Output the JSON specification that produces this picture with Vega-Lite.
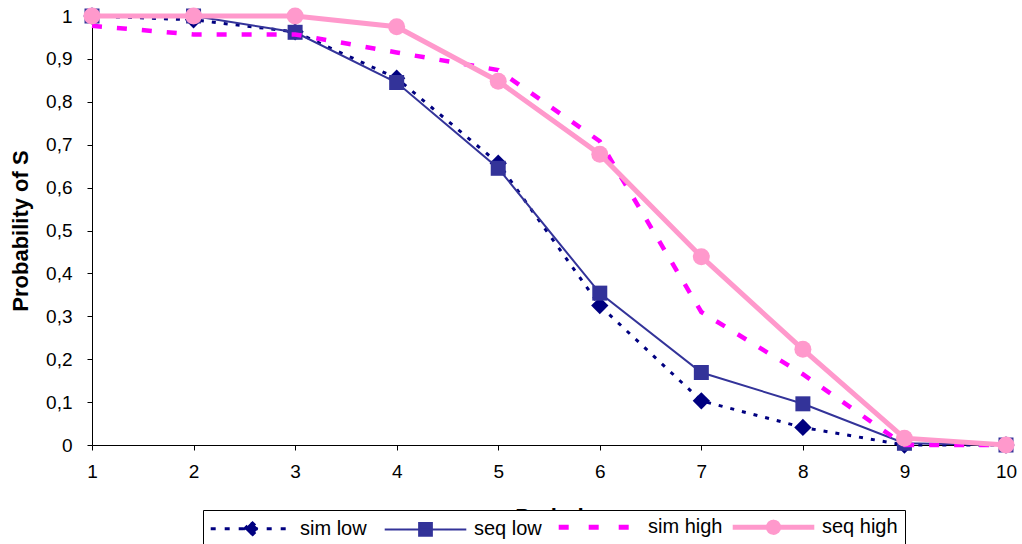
{
  "$schema": "https://vega.github.io/schema/vega-lite/v6.json",
  "width": 914,
  "height": 429,
  "autosize": {"type": "none"},
  "padding": {"left": 92, "top": 16, "right": 16, "bottom": 99},
  "background": "white",
  "config": {
    "view": {"stroke": null},
    "font": "Liberation Sans",
    "axis": {
      "grid": false,
      "domainColor": "black",
      "tickColor": "black",
      "labelColor": "black",
      "titleColor": "black",
      "labelFont": "Liberation Sans",
      "labelFontSize": 19,
      "titleFont": "Liberation Sans",
      "titleFontSize": 22,
      "titleFontWeight": "bold",
      "tickSize": 5,
      "domainWidth": 1,
      "tickWidth": 1
    }
  },
  "data": {
    "values": [
      {"period": 1, "series": "sim low", "prob": 1.0},
      {"period": 2, "series": "sim low", "prob": 0.991},
      {"period": 3, "series": "sim low", "prob": 0.963},
      {"period": 4, "series": "sim low", "prob": 0.855},
      {"period": 5, "series": "sim low", "prob": 0.657},
      {"period": 6, "series": "sim low", "prob": 0.325},
      {"period": 7, "series": "sim low", "prob": 0.103},
      {"period": 8, "series": "sim low", "prob": 0.041},
      {"period": 9, "series": "sim low", "prob": 0.0},
      {"period": 10, "series": "sim low", "prob": 0.0},
      {"period": 1, "series": "seq low", "prob": 1.0},
      {"period": 2, "series": "seq low", "prob": 1.0},
      {"period": 3, "series": "seq low", "prob": 0.962},
      {"period": 4, "series": "seq low", "prob": 0.845},
      {"period": 5, "series": "seq low", "prob": 0.645},
      {"period": 6, "series": "seq low", "prob": 0.354},
      {"period": 7, "series": "seq low", "prob": 0.169},
      {"period": 8, "series": "seq low", "prob": 0.096},
      {"period": 9, "series": "seq low", "prob": 0.004},
      {"period": 10, "series": "seq low", "prob": 0.0},
      {"period": 1, "series": "sim high", "prob": 0.977},
      {"period": 2, "series": "sim high", "prob": 0.957},
      {"period": 3, "series": "sim high", "prob": 0.957},
      {"period": 4, "series": "sim high", "prob": 0.915},
      {"period": 5, "series": "sim high", "prob": 0.874},
      {"period": 6, "series": "sim high", "prob": 0.708},
      {"period": 7, "series": "sim high", "prob": 0.31},
      {"period": 8, "series": "sim high", "prob": 0.165},
      {"period": 9, "series": "sim high", "prob": 0.0},
      {"period": 10, "series": "sim high", "prob": 0.0},
      {"period": 1, "series": "seq high", "prob": 1.0},
      {"period": 2, "series": "seq high", "prob": 1.0},
      {"period": 3, "series": "seq high", "prob": 1.0},
      {"period": 4, "series": "seq high", "prob": 0.975},
      {"period": 5, "series": "seq high", "prob": 0.848},
      {"period": 6, "series": "seq high", "prob": 0.678},
      {"period": 7, "series": "seq high", "prob": 0.439},
      {"period": 8, "series": "seq high", "prob": 0.223},
      {"period": 9, "series": "seq high", "prob": 0.016},
      {"period": 10, "series": "seq high", "prob": 0.0}
    ]
  },
  "encoding": {
    "x": {
      "field": "period",
      "type": "quantitative",
      "scale": {"domain": [1, 10], "nice": false, "zero": false},
      "axis": {
        "values": [1, 2, 3, 4, 5, 6, 7, 8, 9, 10],
        "title": "Period",
        "labelPadding": 12,
        "titlePadding": 25,
        "labelFlush": false
      }
    },
    "y": {
      "field": "prob",
      "type": "quantitative",
      "scale": {"domain": [0, 1], "nice": false},
      "axis": {
        "values": [0, 0.1, 0.2, 0.3, 0.4, 0.5, 0.6, 0.7, 0.8, 0.9, 1],
        "title": "Probability of S",
        "labelExpr": "replace(format(datum.value, '.1~f'), '.', ',')",
        "labelPadding": 15,
        "titlePadding": 13
      }
    },
    "color": {
      "field": "series",
      "type": "nominal",
      "scale": {
        "domain": ["sim low", "seq low", "sim high", "seq high"],
        "range": ["#000080", "#333399", "#FF00FF", "#FF99CC"]
      },
      "legend": {
        "orient": "none",
        "legendX": 111,
        "legendY": 494,
        "direction": "horizontal",
        "columns": 4,
        "title": null,
        "gridAlign": "all",
        "columnPadding": -2,
        "symbolSize": 289,
        "symbolOffset": 31.5,
        "labelOffset": 38.5,
        "padding": 7,
        "strokeColor": "black",
        "fillColor": "white",
        "labelFontSize": 20,
        "labelFont": "Liberation Sans",
        "labelColor": "black",
        "encode": {
          "symbols": {
            "update": {
              "shape": {"signal": "datum.value === 'sim low' ? 'M0,-1.47M0,1.47M-4.8,0L4.8,0M0,-0.8L0.8,0L0,0.8L-0.8,0Z' : datum.value === 'seq low' ? 'M0,-1.53M0,1.53M-4.8,0L4.8,0M-0.75,-0.75L0.75,-0.75L0.75,0.75L-0.75,0.75Z' : datum.value === 'sim high' ? 'M0,-1.35M0,1.35M-4.8,0L4.8,0' : 'M0,-1.35M0,1.35M-4.8,0L4.8,0M-0.6,0L-0.554,-0.23L-0.424,-0.424L-0.23,-0.554L0,-0.6L0.23,-0.554L0.424,-0.424L0.554,-0.23L0.6,0L0.554,0.23L0.424,0.424L0.23,0.554L0,0.6L-0.23,0.554L-0.424,0.424L-0.554,0.23Z'"},
              "fill": {"signal": "datum.value === 'sim low' ? '#000080' : datum.value === 'seq low' ? '#333399' : datum.value === 'seq high' ? '#FF99CC' : 'transparent'"},
              "stroke": {"signal": "datum.value === 'sim low' ? '#000080' : datum.value === 'seq low' ? '#333399' : datum.value === 'seq high' ? '#FF99CC' : '#FF00FF'"},
              "strokeWidth": {"signal": "datum.value === 'sim low' ? 3 : datum.value === 'seq low' ? 2 : 5"},
              "strokeDash": {"signal": "datum.value === 'sim low' ? [5, 9] : datum.value === 'sim high' ? [10, 20] : [1, 0]"},
              "opacity": {"value": 1}
            }
          }
        }
      }
    }
  },
  "layer": [
    {
      "transform": [{"filter": "datum.series === 'sim low'"}],
      "mark": {"type": "line", "strokeDash": [4, 8], "strokeWidth": 3}
    },
    {
      "transform": [{"filter": "datum.series === 'sim low'"}],
      "mark": {"type": "point", "shape": "diamond", "filled": true, "size": 300, "opacity": 1}
    },
    {
      "transform": [{"filter": "datum.series === 'seq low'"}],
      "mark": {"type": "line", "strokeWidth": 2}
    },
    {
      "transform": [{"filter": "datum.series === 'seq low'"}],
      "mark": {"type": "point", "shape": "square", "filled": true, "size": 225, "opacity": 1}
    },
    {
      "transform": [{"filter": "datum.series === 'sim high'"}],
      "mark": {"type": "line", "strokeDash": [10, 15], "strokeWidth": 4.5}
    },
    {
      "transform": [{"filter": "datum.series === 'seq high'"}],
      "mark": {"type": "line", "strokeWidth": 5}
    },
    {
      "transform": [{"filter": "datum.series === 'seq high'"}],
      "mark": {"type": "point", "shape": "circle", "filled": true, "size": 289, "opacity": 1}
    }
  ]
}
